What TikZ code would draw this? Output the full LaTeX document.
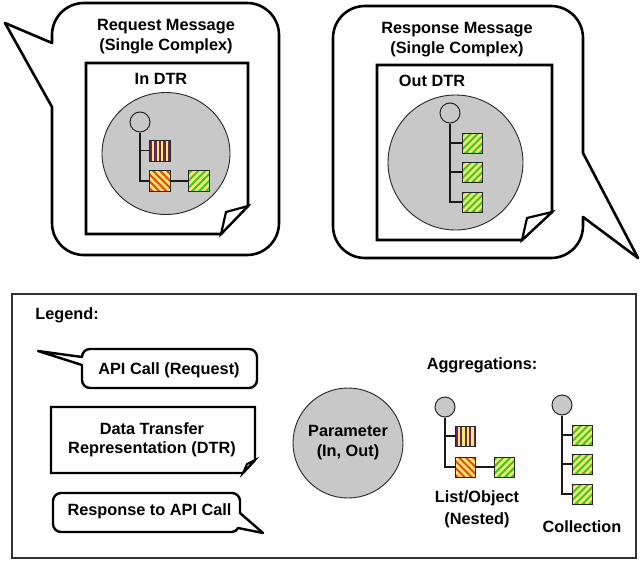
\documentclass[tikz,border=0pt]{standalone}
\usepackage{fontspec}
\setmainfont{Liberation Sans}
\usetikzlibrary{shapes.geometric}
\definecolor{grayc}{RGB}{200,200,200}
\definecolor{purpc}{RGB}{100,40,90}
\definecolor{yelc}{RGB}{245,232,110}
\definecolor{redc}{RGB}{240,70,20}
\definecolor{grnc}{RGB}{60,200,40}
\begin{document}
\begin{tikzpicture}[x=1pt,y=-1pt,
  txt/.style={font=\fontsize{16.3}{20}\selectfont\bfseries, align=center, inner sep=0pt},
  bub/.style={draw=black, fill=white, line width=2.6pt, line join=round},
  lbub/.style={draw=black, fill=white, line width=2.4pt, line join=round},
  dtr/.style={draw=black, fill=white, line width=2.6pt, line join=miter},
  param/.style={circle, draw=black!85, fill=grayc, line width=0.9pt, inner sep=0pt},
  root/.style={circle, draw=black!85, fill=grayc, line width=1pt, minimum size=20pt, inner sep=0pt},
  sq/.style={draw=black!85, line width=1pt, minimum size=20pt, inner sep=0pt},
  psq/.style={sq, fill=purpc, path picture={\foreach \i in {4,8.5,13,17.5}{\draw[yelc, line width=2.1pt] ([xshift=\i pt]path picture bounding box.north west) -- ([xshift=\i pt]path picture bounding box.south west);}}},
  rsq/.style={sq, fill=redc, path picture={\foreach \i in {-21,-14,...,21}{\draw[yelc, line width=2.6pt] ([xshift={\i*1pt}]path picture bounding box.north west) -- ([xshift={(\i+24)*1pt}, yshift=-24pt]path picture bounding box.north west);}}},
  gsq/.style={sq, fill=grnc, path picture={\foreach \i in {-21,-14,...,21}{\draw[yelc, line width=2.6pt] ([xshift={\i*1pt}]path picture bounding box.south west) -- ([xshift={(\i+24)*1pt}, yshift=24pt]path picture bounding box.south west);}}},
  tree/.style={draw=black!90, line width=1.2pt}
]
\useasboundingbox (0,0) rectangle (642,562);
\fill[white] (0,0) rectangle (642,562);

% ---------- left bubble ----------
\draw[bub] (5,23) -- (52,43) -- (52,35) .. controls (52,17.3) and (66.3,3) .. (84,3) -- (247,3) .. controls (264.7,3) and (279,17.3) .. (279,35) -- (279,223) .. controls (279,240.7) and (264.7,255) .. (247,255) -- (84,255) .. controls (66.3,255) and (52,240.7) .. (52,223) -- (52,107) -- cycle;
\node[txt] (t1) at (166,37) {Request Message\\(Single Complex)};
\draw[dtr] (86,63) -- (248,63) -- (248,206) -- (221,234) -- (86,234) -- cycle;
\draw[dtr, line width=2.2pt] (248,206) -- (226,212) -- (221,234) -- cycle;
\node[txt] (t2) at (161,79) {In DTR};
\node[param, ellipse, minimum width=128pt, minimum height=122pt] (g1) at (166,153.5) {};
\node[root] (a0) at (140,122) {};
\node[psq, minimum size=21pt] (a1) at (159.7,150.5) {};
\node[rsq, minimum size=21pt] (a2) at (159.7,181) {};
\node[gsq, minimum size=21pt] (a3) at (198.7,181) {};
\draw[tree] (a0.south) |- (a1.west);
\draw[tree] (a0.south) |- (a2.west);
\draw[tree] (a2.east) -- (a3.west);

% ---------- right bubble ----------
\draw[bub] (638,258) -- (583,217) -- (583,226) .. controls (583,243.7) and (568.7,258) .. (551,258) -- (365,258) .. controls (347.3,258) and (333,243.7) .. (333,226) -- (333,38) .. controls (333,20.3) and (347.3,6) .. (365,6) -- (551,6) .. controls (568.7,6) and (583,20.3) .. (583,38) -- (583,153) -- cycle;
\node[txt] (t3) at (457,39.5) {Response Message\\(Single Complex)};
\draw[dtr] (377,65) -- (552,65) -- (552,212) -- (522,240) -- (377,240) -- cycle;
\draw[dtr, line width=2.2pt] (552,212) -- (527,218) -- (522,240) -- cycle;
\node[txt] (t4) at (432,81) {Out DTR};
\node[param, minimum size=135pt] (g2) at (455.5,162.5) {};
\node[root] (b0) at (450,113) {};
\node[gsq] (b1) at (472,143) {};
\node[gsq] (b2) at (472,172) {};
\node[gsq] (b3) at (472,202) {};
\draw[tree] (b0.south) |- (b1.west);
\draw[tree] (b0.south) |- (b2.west);
\draw[tree] (b0.south) |- (b3.west);

% ---------- legend ----------
\draw[draw=black!80, line width=1.2pt] (12,294) rectangle (636,558);
\node[txt] (lg) at (67,315) {Legend:};

\draw[lbub] (38,351) -- (82,365) -- (82,380) .. controls (82,384.4) and (85.6,388) .. (90,388) -- (249,388) .. controls (253.4,388) and (257,384.4) .. (257,380) -- (257,357) .. controls (257,352.6) and (253.4,349) .. (249,349) -- (90,349) .. controls (85.6,349) and (82,352.6) .. (82,357) -- cycle;
\node[txt] (l1) at (169,370) {API Call (Request)};

\draw[lbub, line join=miter] (51,407) -- (255,407) -- (255,460) -- (243,473) -- (51,473) -- cycle;
\draw[lbub, line width=2pt, line join=miter] (255,460) -- (247,464) -- (243,473) -- cycle;
\node[txt, font=\fontsize{16.3}{19}\selectfont\bfseries] (l2) at (152,440) {Data Transfer\\Representation (DTR)};

\draw[lbub] (263,533) -- (240,513) -- (240,501) .. controls (240,496.6) and (236.4,493) .. (232,493) -- (61,493) .. controls (56.6,493) and (53,496.6) .. (53,501) -- (53,524) .. controls (53,528.4) and (56.6,532) .. (61,532) -- (232,532) .. controls (235,532) and (237,530) .. (238,528) -- cycle;
\node[txt] (l3) at (149.5,511) {Response to API Call};

\node[param, minimum size=110pt] (pc) at (348,443) {};
\node[txt] (pt) at (348,443) {Parameter\\(In, Out)};

\node[txt] (ag) at (482,365) {Aggregations:};

\node[root] (c0) at (445,407) {};
\node[psq] (c1) at (465,436) {};
\node[rsq] (c2) at (465,467) {};
\node[gsq] (c3) at (504.5,467) {};
\draw[tree] (c0.south) |- (c1.west);
\draw[tree] (c0.south) |- (c2.west);
\draw[tree] (c2.east) -- (c3.west);
\node[txt, font=\fontsize{16.3}{22}\selectfont\bfseries] (ct) at (477,509) {List/Object\\(Nested)};

\node[root] (d0) at (562,405) {};
\node[gsq] (d1) at (582,435) {};
\node[gsq] (d2) at (582,464) {};
\node[gsq] (d3) at (582,494) {};
\draw[tree] (d0.south) |- (d1.west);
\draw[tree] (d0.south) |- (d2.west);
\draw[tree] (d0.south) |- (d3.west);
\node[txt] (dt) at (582,527) {Collection};
\end{tikzpicture}
\end{document}
